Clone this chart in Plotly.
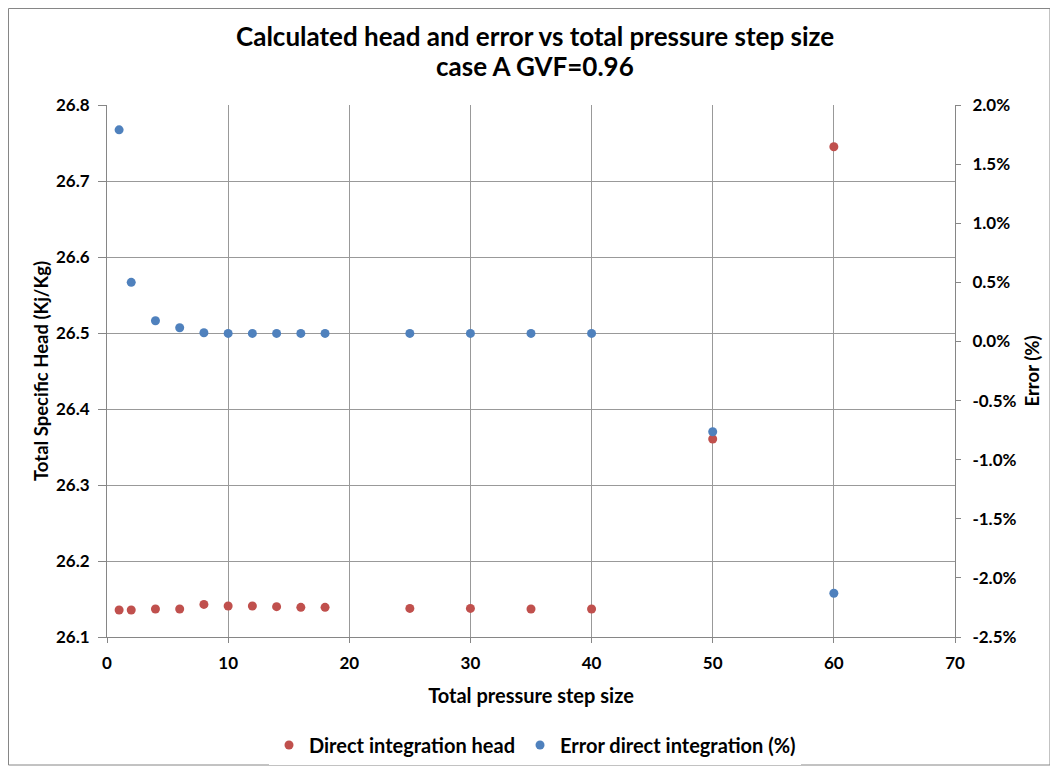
import plotly.graph_objects as go

# ---- data ----
step_size = [1, 2, 4, 6, 8, 10, 12, 14, 16, 18, 25, 30, 35, 40, 50, 60]
head = [26.1355, 26.1355, 26.1368, 26.1368, 26.1429, 26.1408, 26.1408, 26.1399,
        26.1390, 26.1390, 26.1376, 26.1376, 26.1368, 26.1368, 26.3605, 26.7450]
error_pct = [1.79, 0.50, 0.175, 0.116, 0.074, 0.068, 0.068, 0.068, 0.068, 0.068,
             0.068, 0.068, 0.068, 0.068, -0.764, -2.13]

left_ticks = [26.1, 26.2, 26.3, 26.4, 26.5, 26.6, 26.7, 26.8]
left_labels = ["26.1", "26.2", "26.3", "26.4", "26.5", "26.6", "26.7", "26.8"]
right_ticks = [-2.5, -2.0, -1.5, -1.0, -0.5, 0.0, 0.5, 1.0, 1.5, 2.0]
right_labels = ["-2.5%", "-2.0%", "-1.5%", "-1.0%", "-0.5%", "0.0%", "0.5%", "1.0%", "1.5%", "2.0%"]
x_ticks = [0, 10, 20, 30, 40, 50, 60, 70]
title_lines = ["Calculated head and error vs total pressure step size", "case A GVF=0.96"]

RED = "#C0504D"
BLUE = "#4F81BD"
GRID = "#999999"
AXIS = "#868686"
FONT = "Lato"

fig = go.Figure()
fig.add_trace(go.Scatter(x=step_size, y=head, mode="markers", name="Direct integration head",
                         marker=dict(color=RED, size=9), yaxis="y"))
fig.add_trace(go.Scatter(x=step_size, y=error_pct, mode="markers", name="Error direct integration (%)",
                         marker=dict(color=BLUE, size=9), yaxis="y2"))

# the page body adds an 8px offset, so the figure is 8px smaller
W, H = 1050, 763
ml, mt = 99, 97
mr, mb = 103, 134
pw, ph = W - ml - mr, H - mt - mb

def px_x(p):
    return (p - ml) / pw

def px_y(p):
    return (H - mb - p) / ph

TICKFONT = dict(family=FONT, size=17, weight="bold", color="#000000")
YTITLEFONT = dict(family=FONT, size=18.5, weight="bold", color="#000000")
XTITLEFONT = dict(family=FONT, size=20, weight="bold", color="#000000")

fig.update_layout(
    width=W, height=H,
    margin=dict(l=ml, r=mr, t=mt, b=mb, autoexpand=False),
    paper_bgcolor="white", plot_bgcolor="white",
    font=dict(family=FONT, color="#000000"),
    showlegend=True,
    legend=dict(orientation="h", xref="container", yref="container",
                x=(527) / W, xanchor="center", y=(H - 737) / H, yanchor="middle",
                font=dict(family=FONT, size=20, weight="bold"), itemwidth=30),
    xaxis=dict(range=[0, 70], tickvals=x_ticks, showgrid=True, gridcolor=GRID, gridwidth=1,
               zeroline=False, showline=True, linecolor=AXIS, ticks="outside", ticklen=5,
               tickcolor=AXIS, tickfont=TICKFONT, ticklabelstandoff=6,
               title=dict(text="Total pressure step size", standoff=16, font=XTITLEFONT)),
    yaxis=dict(range=[26.1, 26.8], tickvals=left_ticks, ticktext=left_labels, showgrid=True,
               gridcolor=GRID, gridwidth=1, zeroline=False, showline=True, linecolor=AXIS,
               ticks="outside", ticklen=8, tickcolor=AXIS, tickfont=TICKFONT,
               ticklabelstandoff=5,
               title=dict(text="Total Specific Head (Kj/Kg)", standoff=2, font=YTITLEFONT)),
    yaxis2=dict(range=[-2.5, 2.0], tickvals=right_ticks, ticktext=right_labels, overlaying="y",
                side="right", showgrid=False, zeroline=False, showline=True, linecolor=AXIS,
                ticks="outside", ticklen=5, tickcolor=AXIS, tickfont=TICKFONT,
                ticklabelstandoff=8,
                title=dict(text="Error (%)", standoff=10, font=YTITLEFONT)),
    hovermode=False,
)

# chart title (two centred lines)
for line, cy in zip(title_lines, [28, 58]):
    fig.add_annotation(text=line, xref="paper", yref="paper", x=px_x(527), y=px_y(cy),
                       xanchor="center", yanchor="middle", showarrow=False,
                       font=dict(family=FONT, size=26, weight="bold", color="#000000"))

# outer chart border
fig.add_shape(type="rect", xref="paper", yref="paper",
              x0=px_x(0.5), x1=px_x(1042), y0=px_y(757), y1=px_y(0.5),
              line=dict(color="#868686", width=1), fillcolor="rgba(0,0,0,0)", layer="below")

fig.write_html("out.html")
